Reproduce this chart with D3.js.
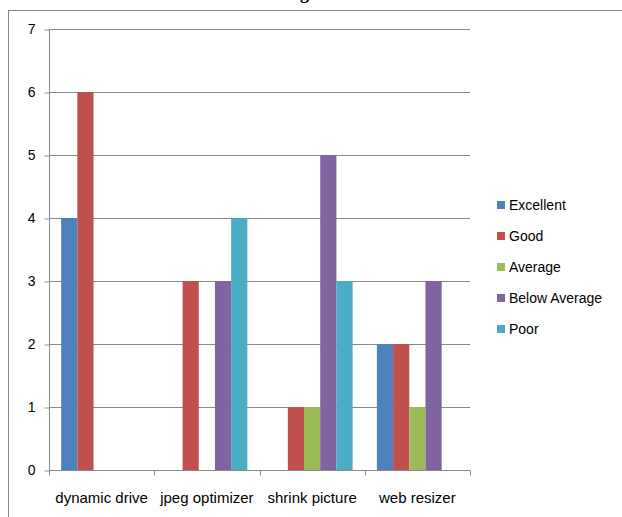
<!DOCTYPE html>
<html>
<head>
<meta charset="utf-8">
<script src="https://cdn.jsdelivr.net/npm/d3@7"></script>
<style>
  body { margin: 0; background: #fff; }
  svg { display: block; font-family: "Liberation Sans", Arial, sans-serif; }
</style>
</head>
<body>
<div id="canvas"></div>
<script>
"use strict"

/* data */
let categories = ["dynamic drive", "jpeg optimizer", "shrink picture", "web resizer"];
let seriesNames = ["Excellent", "Good", "Average", "Below Average", "Poor"];
let excellent = [4, 0, 0, 2];
let good = [6, 3, 1, 2];
let average = [0, 0, 1, 1];
let belowAverage = [0, 3, 5, 3];
let poor = [0, 4, 3, 0];
let yTicks = [0, 1, 2, 3, 4, 5, 6, 7];

let seriesValues = [excellent, good, average, belowAverage, poor];
let colors = ["#4F81BD", "#C0504D", "#9BBB59", "#8064A2", "#4BACC6"];

/* drawing config */
let svgWidth = 622;
let svgHeight = 517;
let plotLeft = 49;
let plotRight = 470;
let plotTop = 29;
let plotBottom = 470;

let svg = d3.select("#canvas")
    .append("svg")
    .attr("width", svgWidth)
    .attr("height", svgHeight);

/* chart border (runs off the picture on right and bottom) */
svg.append("rect")
    .attr("x", 8.5)
    .attr("y", 10.5)
    .attr("width", 700)
    .attr("height", 600)
    .attr("fill", "none")
    .attr("stroke", "#868686");

/* title, cut off at the top: only the tail of the "g" shows */
svg.append("text")
    .attr("x", 309)
    .attr("y", -1)
    .attr("text-anchor", "end")
    .attr("font-family", "Liberation Serif, serif")
    .attr("font-weight", "bold")
    .attr("font-size", 18)
    .text("Rating");

let xScale = d3.scaleBand()
    .domain(categories)
    .range([plotLeft, plotRight]);

let innerScale = d3.scaleBand()
    .domain(seriesNames)
    .range([0, xScale.bandwidth()])
    .paddingOuter(0.75)
    .paddingInner(0);

let yScale = d3.scaleLinear()
    .domain([0, 7])
    .range([plotBottom, plotTop]);

/* gridlines */
svg.append("g")
    .selectAll("line")
    .data(yTicks.filter(d => d > 0))
    .join("line")
    .attr("x1", plotLeft)
    .attr("x2", plotRight)
    .attr("y1", d => Math.round(yScale(d)) + 0.5)
    .attr("y2", d => Math.round(yScale(d)) + 0.5)
    .attr("stroke", "#888")
    .attr("stroke-width", 1);

/* bars */
let bars = [];
seriesValues.forEach(function (vals, s) {
    vals.forEach(function (v, c) {
        bars.push({series: seriesNames[s], cat: categories[c], value: v, color: colors[s]});
    });
});

svg.append("g")
    .selectAll("rect")
    .data(bars.filter(d => d.value > 0))
    .join("rect")
    .attr("x", d => xScale(d.cat) + innerScale(d.series))
    .attr("y", d => yScale(d.value))
    .attr("width", innerScale.bandwidth())
    .attr("height", d => plotBottom - yScale(d.value))
    .attr("fill", d => d.color);

/* y axis */
let yAxis = d3.axisLeft(yScale)
    .tickValues(yTicks)
    .tickSize(5)
    .tickPadding(9)
    .tickFormat(d3.format("d"));

let yg = svg.append("g")
    .attr("transform", "translate(" + (plotLeft + 0.5) + ",0.5)")
    .call(yAxis);
yg.select(".domain").attr("stroke", "#888").attr("d", "M0," + plotTop + "V" + plotBottom);
yg.selectAll(".tick line").attr("stroke", "#888");
yg.selectAll(".tick text")
    .attr("font-size", 14)
    .attr("fill", "#000")
    .attr("font-family", "Liberation Sans, Arial, sans-serif");

/* x axis */
let xg = svg.append("g")
    .attr("transform", "translate(0," + (plotBottom + 0.5) + ")");
xg.append("line")
    .attr("x1", plotLeft)
    .attr("x2", plotRight)
    .attr("stroke", "#888");
xg.selectAll("line.tick")
    .data([plotLeft].concat(categories.map(c => xScale(c) + xScale.bandwidth())))
    .join("line")
    .attr("class", "tick")
    .attr("x1", d => Math.round(d) + 0.5)
    .attr("x2", d => Math.round(d) + 0.5)
    .attr("y1", 0)
    .attr("y2", 5)
    .attr("stroke", "#888");
xg.selectAll("text")
    .data(categories)
    .join("text")
    .attr("x", d => xScale(d) + xScale.bandwidth() / 2)
    .attr("y", 32)
    .attr("text-anchor", "middle")
    .attr("font-size", 15)
    .text(d => d);

/* legend */
let legend = svg.append("g")
    .selectAll("g")
    .data(seriesNames)
    .join("g")
    .attr("transform", (d, i) => "translate(497," + (205 + i * 31) + ")");
legend.append("rect")
    .attr("x", 0)
    .attr("y", -4)
    .attr("width", 8)
    .attr("height", 8)
    .attr("fill", (d, i) => colors[i]);
legend.append("text")
    .attr("x", 12)
    .attr("y", 5)
    .attr("font-size", 14)
    .text(d => d);
</script>
</body>
</html>
